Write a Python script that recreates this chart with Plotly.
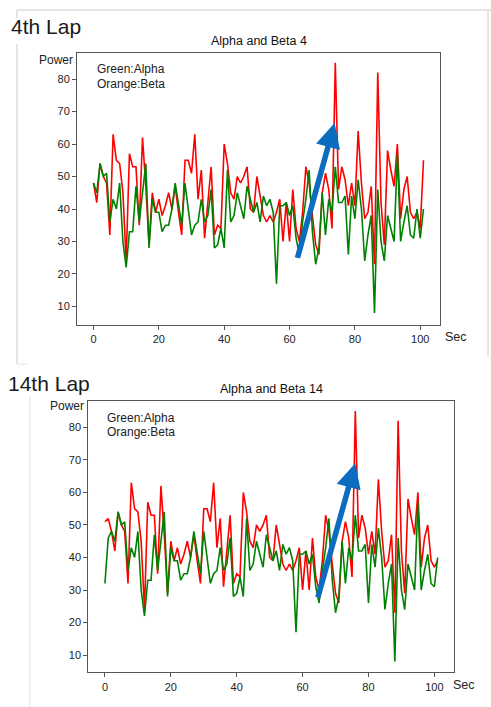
import plotly.graph_objects as go

W, H = 491, 707

# Lap 4 data (Beta = red, Alpha = green)
beta_lap4 = [48, 42, 54, 50, 48, 32, 63, 55, 54, 45, 24, 57, 53, 53, 35, 62, 47, 29, 45, 39,
             43, 38, 41, 45, 40, 47, 39, 32, 55, 55, 51, 63, 43, 52, 31, 41, 53, 32, 35, 34,
             60, 54, 45, 43, 50, 48, 50, 53, 40, 39, 50, 44, 38, 36, 38, 36, 39, 43, 30, 42,
             30, 46, 34, 30, 39, 53, 48, 38, 29, 26, 45, 51, 46, 34, 85, 46, 53, 49, 41, 48,
             41, 64, 48, 37, 39, 47, 23, 82, 42, 29, 58, 52, 47, 60, 37, 46, 50, 39, 37, 39,
             34, 55]
alpha_lap4 = [48, 45, 54, 50, 51, 36, 43, 40, 48, 30, 22, 33, 33, 47, 36, 45, 54, 28, 43, 39,
              39, 33, 35, 35, 40, 48, 41, 35, 48, 39, 32, 35, 36, 43, 36, 38, 46, 28, 29, 34,
              28, 52, 36, 38, 45, 41, 37, 47, 43, 39, 42, 36, 44, 41, 43, 39, 17, 41, 41, 42,
              38, 41, 31, 26, 36, 43, 52, 33, 23, 28, 45, 32, 43, 39, 53, 42, 42, 44, 26, 44,
              37, 49, 40, 24, 32, 38, 8, 46, 30, 24, 38, 34, 30, 57, 30, 36, 41, 32, 31, 40,
              31, 40]

# Lap 14 data
beta_lap14 = [51, 52, 48, 42, 54, 50, 48, 32, 63, 55, 54, 45, 24, 57, 53, 53, 35, 62, 47, 29,
              45, 39, 43, 38, 41, 45, 40, 47, 39, 32, 55, 55, 51, 63, 43, 52, 31, 41, 53, 32,
              35, 34, 60, 54, 45, 43, 50, 48, 50, 53, 40, 39, 50, 44, 38, 36, 38, 36, 39, 43,
              30, 42, 30, 46, 34, 30, 39, 53, 48, 38, 29, 26, 45, 51, 46, 34, 85, 46, 53, 49,
              41, 48, 41, 64, 48, 37, 39, 47, 23, 82, 42, 29, 58, 52, 47, 60, 37, 46, 50, 39,
              37, 39]
alpha_lap14 = [32, 46, 48, 45, 54, 50, 51, 36, 43, 40, 48, 30, 22, 33, 33, 47, 36, 45, 54, 28,
               43, 39, 39, 33, 35, 35, 40, 48, 41, 35, 48, 39, 32, 35, 36, 43, 36, 38, 46, 28,
               29, 34, 28, 52, 36, 38, 45, 41, 37, 47, 43, 39, 42, 36, 44, 41, 43, 39, 17, 41,
               41, 42, 38, 41, 31, 26, 36, 43, 52, 33, 23, 28, 45, 32, 43, 39, 53, 42, 42, 44,
               26, 44, 37, 49, 40, 24, 32, 38, 8, 46, 30, 24, 38, 34, 30, 57, 30, 36, 41, 32,
               31, 40]

x_ticks = [0, 20, 40, 60, 80, 100]
y_ticks = [10, 20, 30, 40, 50, 60, 70, 80]

# arrows (tail x, tail y, head x, head y) in data units
arrow_lap4 = [62.3, 24.5, 73.8, 66.5]
arrow_lap14 = [64.5, 27.2, 76.0, 69.0]


def px(x):
    return x / W


def py(y):
    return 1 - y / H


FONT = "Liberation Sans, Arial, sans-serif"

fig = go.Figure()
fig.add_trace(go.Scatter(x=list(range(len(beta_lap4))), y=beta_lap4, mode="lines",
                         line=dict(color="#ff0000", width=1.6), xaxis="x", yaxis="y"))
fig.add_trace(go.Scatter(x=list(range(len(alpha_lap4))), y=alpha_lap4, mode="lines",
                         line=dict(color="#008000", width=1.6), xaxis="x", yaxis="y"))
fig.add_trace(go.Scatter(x=list(range(len(beta_lap14))), y=beta_lap14, mode="lines",
                         line=dict(color="#ff0000", width=1.6), xaxis="x2", yaxis="y2"))
fig.add_trace(go.Scatter(x=list(range(len(alpha_lap14))), y=alpha_lap14, mode="lines",
                         line=dict(color="#008000", width=1.6), xaxis="x2", yaxis="y2"))

axis_common = dict(showline=True, mirror=True, linecolor="#555", linewidth=1, ticks="outside",
                   ticklen=4, tickcolor="#555", showgrid=False, zeroline=False,
                   tickfont=dict(family=FONT, size=11, color="#222"))

fig.update_layout(
    width=W, height=H, margin=dict(l=0, r=0, t=0, b=0),
    paper_bgcolor="white", plot_bgcolor="white", showlegend=False,
    xaxis=dict(domain=[px(77), px(440)], range=[-5.05, 106.05], tickvals=x_ticks,
               anchor="y", **axis_common),
    yaxis=dict(domain=[py(325), py(52.7)], range=[4.3, 88.1], tickvals=y_ticks,
               anchor="x", **axis_common),
    xaxis2=dict(domain=[px(88.3), px(454.3)], range=[-5.05, 106.05], tickvals=x_ticks,
                anchor="y2", **axis_common),
    yaxis2=dict(domain=[py(672.3), py(400.7)], range=[4.7, 88.2], tickvals=y_ticks,
                anchor="x2", **axis_common),
)

shapes = [
    dict(type="line", xref="paper", yref="paper", x0=px(17), x1=px(491), y0=py(10), y1=py(10),
         line=dict(color="#cccccc", width=1)),
    dict(type="line", xref="paper", yref="paper", x0=px(17), x1=px(17), y0=py(10), y1=py(18),
         line=dict(color="#cccccc", width=1)),
    dict(type="line", xref="paper", yref="paper", x0=px(17), x1=px(17), y0=py(44), y1=py(364),
         line=dict(color="#cccccc", width=1)),
    dict(type="line", xref="paper", yref="paper", x0=px(17), x1=px(28), y0=py(364), y1=py(364),
         line=dict(color="#e0e0e0", width=1)),
    dict(type="line", xref="paper", yref="paper", x0=px(488), x1=px(488), y0=py(10), y1=py(356),
         line=dict(color="#cccccc", width=1)),
    dict(type="line", xref="paper", yref="paper", x0=px(30), x1=px(30), y0=py(396), y1=py(707),
         line=dict(color="#e0e0e0", width=1)),
]
fig.update_layout(shapes=shapes)

ann = []


def text(x, y, s, size, anchor="left", color="#222"):
    ann.append(dict(xref="paper", yref="paper", x=px(x), y=py(y), text=s, showarrow=False,
                    xanchor=anchor, yanchor="middle", font=dict(family=FONT, size=size, color=color)))


text(9, 27, "4th Lap", 21, color="#1a1a1a")
text(6, 383, "14th Lap", 21, color="#1a1a1a")
text(259, 41, "Alpha and Beta 4", 12.5, anchor="center", color="#111")
text(271, 389, "Alpha and Beta 14", 12.5, anchor="center", color="#111")
text(75, 60, "Power", 12, anchor="right")
text(86, 406, "Power", 12, anchor="right")
text(95, 69, "Green:Alpha", 12)
text(95, 84, "Orange:Beta", 12)
text(105, 418, "Green:Alpha", 12)
text(105, 432, "Orange:Beta", 12)
text(443, 337, "Sec", 12.5)
text(451, 685, "Sec", 12.5)

for (xa, ya, xr, yr) in [(arrow_lap4, "x", "y", None), (arrow_lap14, "x2", "y2", None)]:
    pass

for arr, xr, yr in [(arrow_lap4, "x", "y"), (arrow_lap14, "x2", "y2")]:
    ann.append(dict(x=arr[2], y=arr[3], ax=arr[0], ay=arr[1], xref=xr, yref=yr, axref=xr, ayref=yr,
                    showarrow=True, arrowhead=2, arrowsize=0.9, arrowwidth=5.5,
                    arrowcolor="#0b6cc0", text=""))

fig.update_layout(annotations=ann)
fig.write_html("out.html")
